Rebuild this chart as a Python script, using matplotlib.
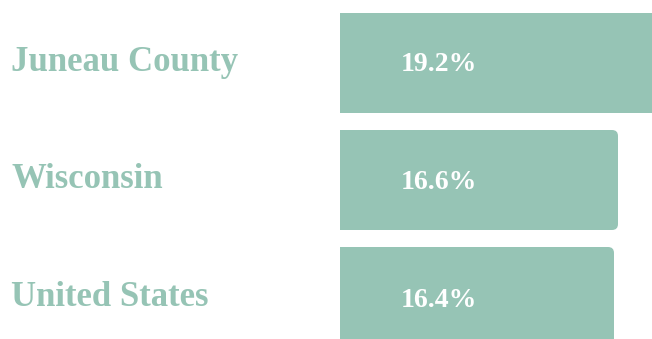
import matplotlib
matplotlib.use("Agg")
import matplotlib.pyplot as plt
from matplotlib.patches import FancyBboxPatch
from matplotlib.transforms import blended_transform_factory

# Share of population by area
areas = ["Juneau County", "Wisconsin", "United States"]
shares = [19.2, 16.6, 16.4]
value_labels = [f"{v:.1f}%" for v in shares]

teal = "#96c4b5"
font = "Liberation Serif"

fig = plt.figure(figsize=(6.52, 3.39), dpi=100)
ax = fig.add_axes([340 / 652, 0, 312 / 652, 1])

# x scale: 20 px per percentage point, axis starts at 2.7
x_lo, x_hi = 2.7, 2.7 + 312 / 20
y_top, y_bot = -63 / 117, (339 - 63) / 117
ax.set_xlim(x_lo, x_hi)
ax.set_ylim(y_bot, y_top)
ax.axis("off")

bar_h = 100 / 117
aspect = 20 / 117  # y units per x unit on screen
for i, v in enumerate(shares):
    box = FancyBboxPatch((0, i - bar_h / 2), v, bar_h,
                         boxstyle="round,pad=0,rounding_size=0.3",
                         mutation_aspect=aspect,
                         facecolor=teal, edgecolor="none", clip_on=True)
    ax.add_patch(box)

tr_val = blended_transform_factory(ax.transAxes, ax.transData)
tr_lab = blended_transform_factory(fig.transFigure, ax.transData)
for i, (name, lab) in enumerate(zip(areas, value_labels)):
    ax.text(61 / 312, i + 0.01 * (1 + i), lab, transform=tr_val, ha="left",
            va="center", color="white", fontsize=20, fontweight="bold",
            family=font)
    fig.text(11 / 652, i, name, transform=tr_lab, ha="left",
             va="center", color=teal, fontsize=25, fontweight="bold",
             family=font)

fig.savefig("out.png", dpi=100)
